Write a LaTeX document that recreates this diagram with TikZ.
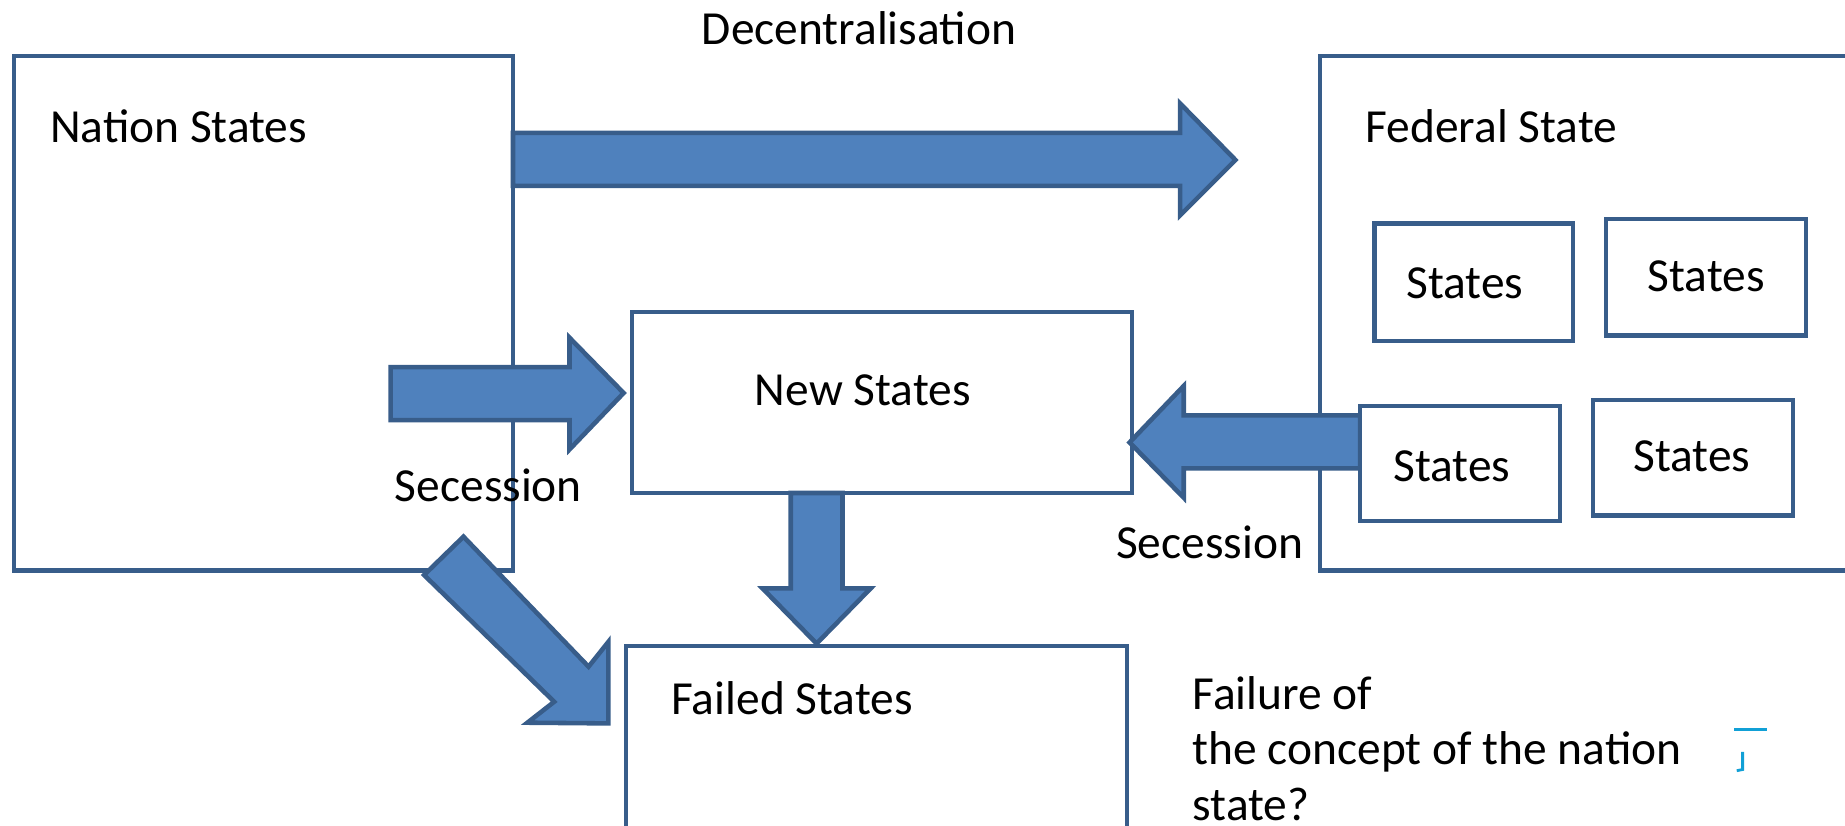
\documentclass[tikz,border=0pt]{standalone}
\usepackage{fontspec}
\setmainfont{Carlito}
\definecolor{arrfill}{HTML}{4F81BD}
\definecolor{edge}{HTML}{385D8A}
\definecolor{tickblue}{RGB}{17,160,214}
\begin{document}
\begin{tikzpicture}[x=0.011767cm,y=-0.011767cm,
  box/.style={draw=edge,line width=1.25pt,fill=white},
  blockarrow/.style={draw=edge,line width=1.3pt,fill=arrfill,line join=miter},
  lbl/.style={font=\fontsize{13.5}{16}\selectfont,inner sep=0pt,anchor=base west},
  clbl/.style={font=\fontsize{13.5}{16}\selectfont,inner sep=0pt,anchor=base},
  tick/.style={draw=tickblue,line width=0.8pt}]
\useasboundingbox (0,0) rectangle (1568,702);
\clip (0,0) rectangle (1568,702);
% boxes
\draw[box] (12,47.5) rectangle (436,485);
\draw[box] (1122,47.5) rectangle (1600,485);
\draw[box] (537,265) rectangle (962,419);
\draw[box] (532,549) rectangle (958,730);
% arrows
\draw[blockarrow] (436,113) -- (1003,113) -- (1003,88) -- (1050,136) -- (1003,183) -- (1003,158) -- (436,158) -- cycle;
\draw[blockarrow] (332,312) -- (484,312) -- (484,287) -- (530,334) -- (484,382) -- (484,357) -- (332,357) -- cycle;
\draw[blockarrow] (1156,353) -- (1006,353) -- (1006,328) -- (960,376) -- (1006,423) -- (1006,398) -- (1156,398) -- cycle;
\draw[blockarrow] (672,419) -- (672,500) -- (648,500) -- (694,547) -- (740,500) -- (716,500) -- (716,419) -- cycle;
\draw[blockarrow] (393.9,456.1) -- (500.2,566.6) -- (517.1,545.4) -- (517.1,614.8) -- (448.2,614.2) -- (471,596.4) -- (360.4,488.7) -- cycle;
% states boxes
\draw[box] (1168,190) rectangle (1337,290);
\draw[box] (1365,186) rectangle (1535,285);
\draw[box] (1156,345) rectangle (1326,443);
\draw[box] (1354,340) rectangle (1524,438);
% texts
\node[clbl] (dec) at (730,38) {Decentralisation};
\node[lbl] (nation) at (42,121) {Nation States};
\node[lbl] (federal) at (1160,121) {Federal State};
\node[lbl] (new) at (641,345) {New States};
\node[lbl] (sec1) at (335,426) {Secession};
\node[lbl] (sec2) at (948,475) {Secession};
\node[lbl] (failed) at (570,607) {Failed States};
\node[clbl] (s1) at (1245,254) {States};
\node[clbl] (s2) at (1450,248) {States};
\node[clbl] (s3) at (1234,409) {States};
\node[clbl] (s4) at (1438,401) {States};
\node[lbl] (q1) at (1013,603) {Failure of};
\node[lbl] (q2) at (1013,650) {the concept of the nation};
\node[lbl] (q3) at (1013,697) {state?};
% small blue mark
\draw[tick] (1474,620) -- (1502,620);
\draw[tick] (1481,639) -- (1481,654) -- (1476,655);
\end{tikzpicture}
\end{document}
